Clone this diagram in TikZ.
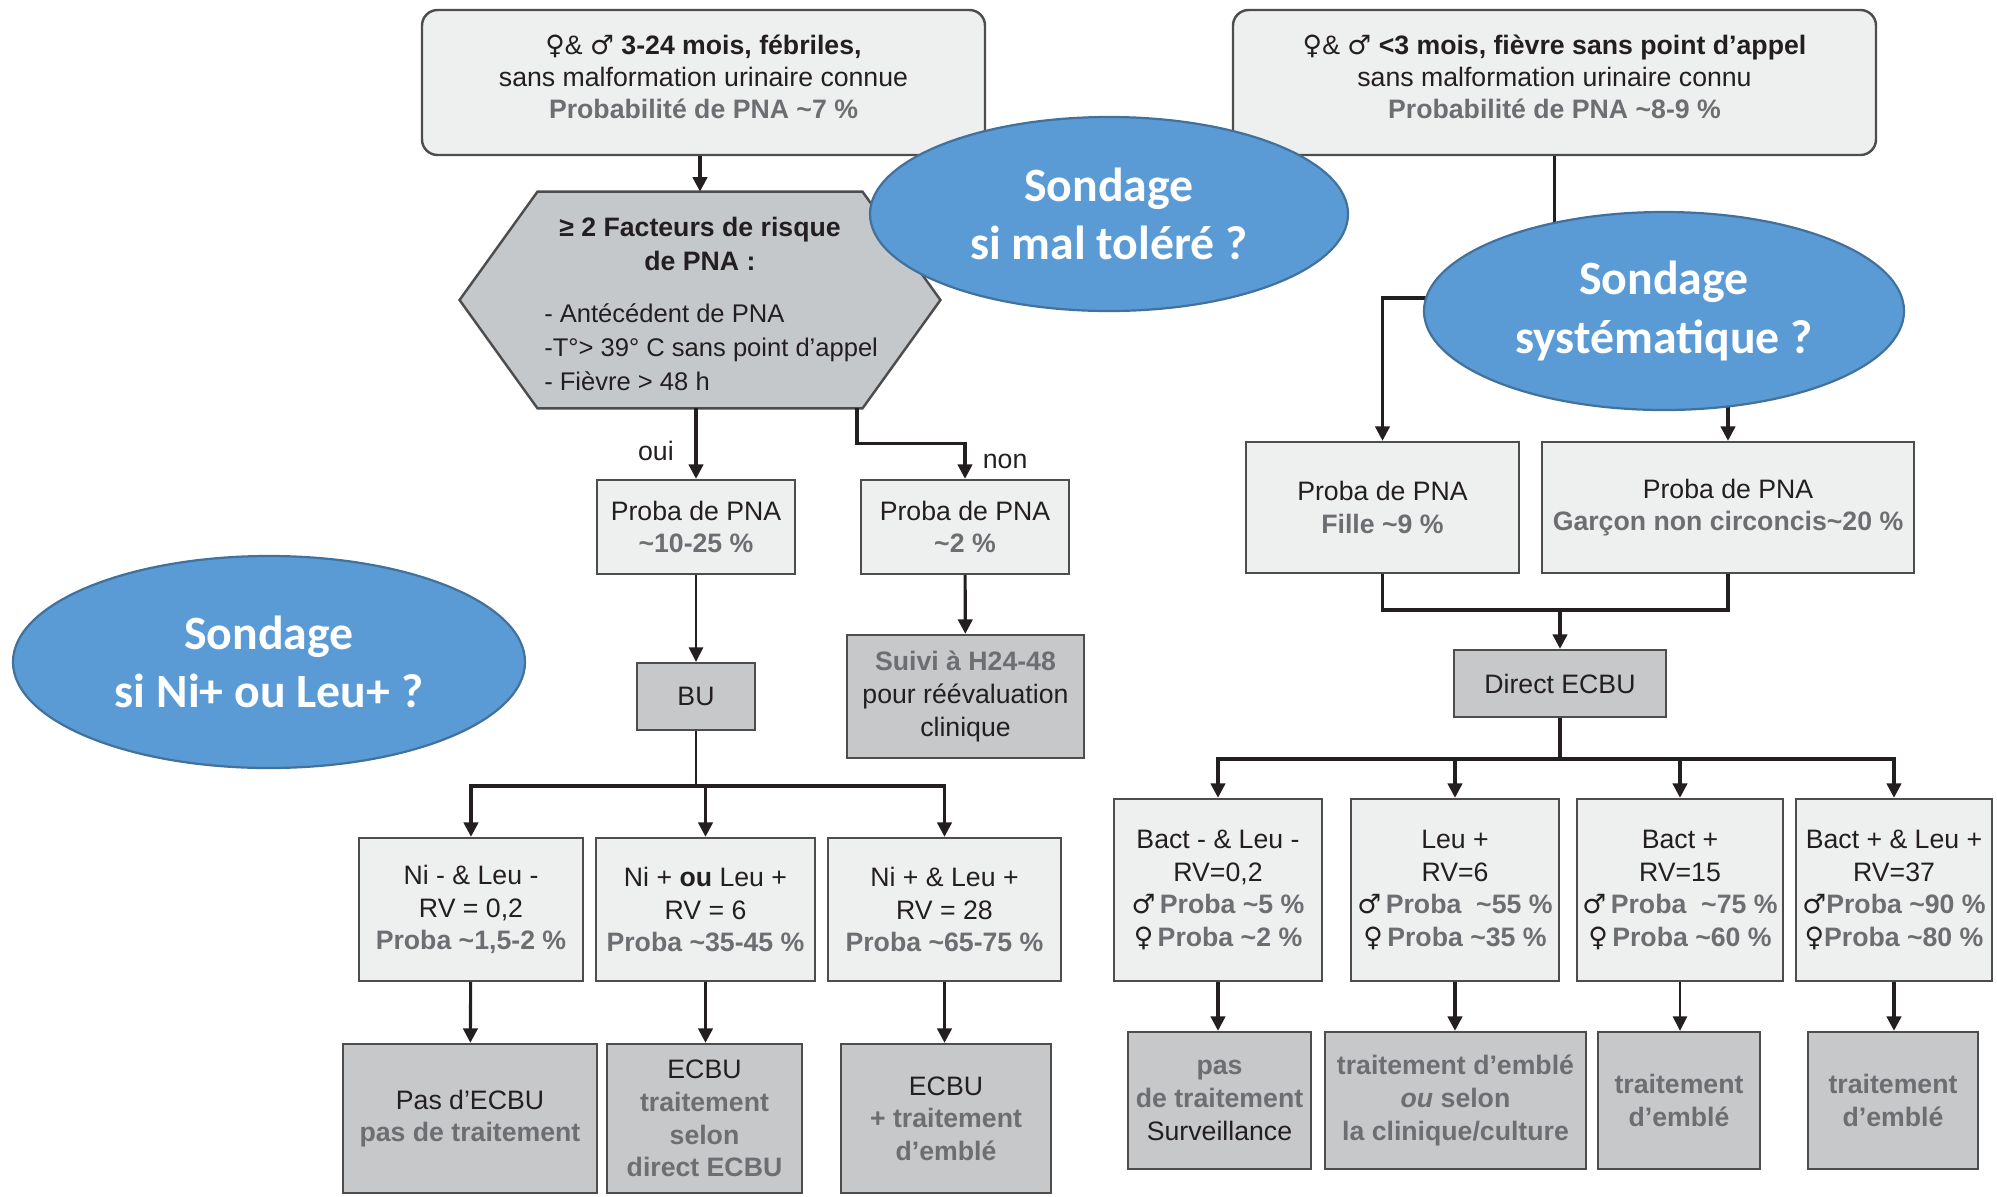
\documentclass[tikz,border=0pt]{standalone}
\usepackage{fontspec}
\setmainfont{Liberation Sans}
\newfontfamily\symfont{DejaVu Sans}
\newfontfamily\calibfont{Carlito}
\usetikzlibrary{arrows.meta,backgrounds,shapes.geometric}

\definecolor{lightbox}{HTML}{EEEFEF}
\definecolor{darkbox}{HTML}{C6C8CA}
\definecolor{hexfill}{HTML}{C5C8CB}
\definecolor{edgegray}{HTML}{4D4D4D}
\definecolor{txtdark}{HTML}{231F20}
\definecolor{txtgray}{HTML}{6D6E71}
\definecolor{bubblefill}{HTML}{5B9BD5}
\definecolor{bubbleedge}{HTML}{41719C}

\newcommand{\pxu}{0.45pt}
\newcommand{\gr}[1]{{\bfseries\color{txtgray}#1}}
\newcommand{\sx}[1]{{\symfont #1}}
\newcommand{\ti}{\textasciitilde}
% shift a centred block of lines without changing its box
\newcommand{\shiftlines}[2]{\raisebox{#1}[\height][\depth]{\begin{tabular}{@{}c@{}}#2\end{tabular}}}

\tikzset{
  wh/.style 2 args={minimum width=#1*\pxu, minimum height=#2*\pxu},
  lbox/.style={draw=edgegray, line width=1.1pt, fill=lightbox, align=center,
    inner sep=2pt, text=txtdark, font=\fontsize{12}{14.7}\selectfont},
  dbox/.style={lbox, fill=darkbox},
  topbox/.style={lbox, rounded corners=7pt, font=\fontsize{12}{14.4}\selectfont},
  bubble/.style={ellipse, draw=bubbleedge, line width=1pt, fill=bubblefill,
    text=white, align=center, inner sep=0pt,
    font=\calibfont\bfseries\fontsize{21.5}{26.2}\selectfont},
  link/.style={line width=1.4pt, draw=txtdark},
  arr/.style={link, -{Triangle[length=6.5pt,width=6.5pt]}},
  thinarr/.style={arr, line width=0.7pt},
  lbl/.style={text=txtdark, font=\fontsize{12}{14}\selectfont},
}

\begin{document}
\begin{tikzpicture}[x=0.45pt, y=-0.45pt]
  \useasboundingbox (0,0) rectangle (1997,1196);

  % Left branch: 3-24 months
  \node[topbox, wh={563}{145}] (top3m) at (703.5,82.5)
    {\shiftlines{1.2pt}{\sx{♀}\& \sx{♂} \textbf{3-24 mois, fébriles,}\\
     sans malformation urinaire connue\\
     \gr{Probabilité de PNA \ti7 \%}}};

  % Risk factors hexagon
  \node[wh={480}{216}, align=center, text=txtdark,
        font=\fontsize{12}{15.3}\selectfont] (risk) at (700,300)
    {\shiftlines{-3pt}{\textbf{≥ 2 Facteurs de risque}\\ \textbf{de PNA :}\\[8.5pt]
     \hspace{10pt}{\fontsize{11.5}{15.3}\selectfont\begin{tabular}{@{}l@{}}- Antécédent de PNA\\-T°> 39° C sans point d’appel\\- Fièvre > 48 h\end{tabular}}}};
  \begin{scope}[on background layer]
    \filldraw[fill=hexfill, draw=edgegray, line width=1.1pt]
      ([xshift=78*\pxu]risk.north west) -- ([xshift=-78*\pxu]risk.north east)
      -- (risk.east) -- ([xshift=-78*\pxu]risk.south east)
      -- ([xshift=78*\pxu]risk.south west) -- (risk.west) -- cycle;
  \end{scope}

  \node[lbox, wh={198}{94}] (phigh) at (696,527) {Proba de PNA\\ \gr{\ti10-25 \%}};
  \node[lbox, wh={208}{94}] (plow) at (965,527) {Proba de PNA\\ \gr{\ti2 \%}};
  \node[dbox, wh={118}{67}] (bu) at (696,696.5) {BU};
  \node[dbox, wh={237}{123}] (suivi) at (965.5,696.5)
    {\gr{Suivi à H24-48}\\ pour réévaluation\\ clinique};

  % Dipstick results
  \node[lbox, wh={224}{143}] (nneg) at (471,909.5)
    {Ni - \& Leu -\\ RV = 0,2\\ \gr{Proba \ti1,5-2 \%}};
  \node[lbox, wh={219}{143}] (nou) at (705.5,909.5)
    {Ni + \textbf{ou} Leu +\\ RV = 6\\ \gr{Proba \ti35-45 \%}};
  \node[lbox, wh={233}{143}] (npos) at (944.5,909.5)
    {Ni + \& Leu +\\ RV = 28\\ \gr{Proba \ti65-75 \%}};

  \node[dbox, wh={254}{149}] (noecbu) at (470,1118.5)
    {Pas d’ECBU\\ \gr{pas de traitement}};
  \node[dbox, wh={195}{149}] (ecbusel) at (704.5,1118.5)
    {ECBU\\ \gr{traitement}\\ \gr{selon}\\ \gr{direct ECBU}};
  \node[dbox, wh={210}{149}] (ecbuemb) at (946,1118.5)
    {ECBU\\ \gr{+ traitement}\\ \gr{d’emblé}};

  % Right branch: under 3 months
  \node[topbox, wh={643}{145}] (topnn) at (1554.5,82.5)
    {\shiftlines{1.2pt}{\sx{♀}\& \sx{♂} \textbf{<3 mois, fièvre sans point d’appel}\\
     sans malformation urinaire connu\\
     \gr{Probabilité de PNA \ti8-9 \%}}};

  \node[lbox, wh={273}{131}] (pfille) at (1382.5,507.5)
    {Proba de PNA\\ \gr{Fille \ti9 \%}};
  \node[lbox, wh={372}{131}] (pgarcon) at (1728,507.5)
    {Proba de PNA\\ \gr{Garçon non circoncis\ti20 \%}};
  \node[dbox, wh={212}{67}] (decbu) at (1560,683.5) {Direct ECBU};

  % Direct ECBU results
  \node[lbox, wh={208}{182}] (bneg) at (1218,890)
    {Bact - \& Leu -\\ RV=0,2\\ \sx{♂}\,\gr{Proba \ti5 \%}\\ \sx{♀}\,\gr{Proba \ti2 \%}};
  \node[lbox, wh={208}{182}] (lpos) at (1455,890)
    {Leu +\\ RV=6\\ \sx{♂}\,\gr{Proba\ \ \ti55 \%}\\ \sx{♀}\,\gr{Proba \ti35 \%}};
  \node[lbox, wh={206}{182}] (bpos) at (1680,890)
    {Bact +\\ RV=15\\ \sx{♂}\,\gr{Proba\ \ \ti75 \%}\\ \sx{♀}\,\gr{Proba \ti60 \%}};
  \node[lbox, wh={196}{182}] (blpos) at (1894,890)
    {Bact + \& Leu +\\ RV=37\\ \sx{♂}\gr{Proba \ti90 \%}\\ \sx{♀}\gr{Proba \ti80 \%}};

  \node[dbox, wh={183}{137}] (nottt) at (1219.5,1100.5)
    {\gr{pas}\\ \gr{de traitement}\\ Surveillance};
  \node[dbox, wh={261}{137}] (ttselon) at (1455.5,1100.5)
    {\gr{traitement d’emblé}\\ \gr{\textit{ou} selon}\\ \gr{la clinique/culture}};
  \node[dbox, wh={162}{137}] (ttemb1) at (1679,1100.5)
    {\gr{traitement}\\ \gr{d’emblé}};
  \node[dbox, wh={170}{137}] (ttemb2) at (1893,1100.5)
    {\gr{traitement}\\ \gr{d’emblé}};

  % Split / join points
  \coordinate (bsplit) at (696,786);
  \coordinate (rsplit) at (1554.5,298);
  \coordinate (rjoin) at (1560,610);
  \coordinate (esplit) at (1560,759);

  % Connectors, left side
  \draw[arr] (top3m.south -| risk.north) -- (risk.north);
  \draw[arr] (risk.south -| phigh.north) -- node[lbl, left=6pt, pos=0.6] {oui} (phigh.north);
  \draw[arr] ([xshift=157*\pxu]risk.south) -- ++(0,35) -| node[lbl, right=4pt, pos=0.75] {non} (plow.north);
  \draw[thinarr] (phigh) -- (bu);
  \draw[arr] (plow) -- (suivi);
  \draw[link, line width=0.7pt] (bu) -- (bsplit);
  \draw[arr] (bsplit) -| (nneg.north);
  \draw[arr] (bsplit) -- (bsplit -| nou.north) -- (nou.north);
  \draw[arr] (bsplit) -| (npos.north);
  \draw[arr] (nneg) -- (noecbu);
  \draw[arr] (nou.south) -- (nou.south |- ecbusel.north);
  \draw[arr] (npos.south) -- (npos.south |- ecbuemb.north);

  % Connectors, right side
  \draw[link] (topnn.south) -- (rsplit);
  \draw[arr] (rsplit) -| (pfille.north);
  \draw[arr] (rsplit) -| (pgarcon.north);
  \draw[link] (pfille.south) |- (rjoin);
  \draw[link] (pgarcon.south) |- (rjoin);
  \draw[arr] (rjoin) -- (decbu.north);
  \draw[link] (decbu.south) -- (esplit);
  \draw[arr] (esplit) -| (bneg.north);
  \draw[arr] (esplit) -| (lpos.north);
  \draw[arr] (esplit) -| (bpos.north);
  \draw[arr] (esplit) -| (blpos.north);
  \draw[arr] (bneg.south) -- (bneg.south |- nottt.north);
  \draw[arr] (lpos.south) -- (lpos.south |- ttselon.north);
  \draw[thinarr] (bpos.south) -- (bpos.south |- ttemb1.north);
  \draw[arr] (blpos.south) -- (blpos.south |- ttemb2.north);

  % Catheter questions
  \node[bubble, wh={478}{194}] (elmal) at (1109,214) {Sondage\\ si mal toléré ?};
  \node[bubble, wh={480}{198}] (elsys) at (1664,311) {Sondage\\ systématique ?};
  \node[bubble, wh={512}{212}] (elni) at (269,662) {Sondage\\ si Ni+ ou Leu+ ?};
\end{tikzpicture}
\end{document}
